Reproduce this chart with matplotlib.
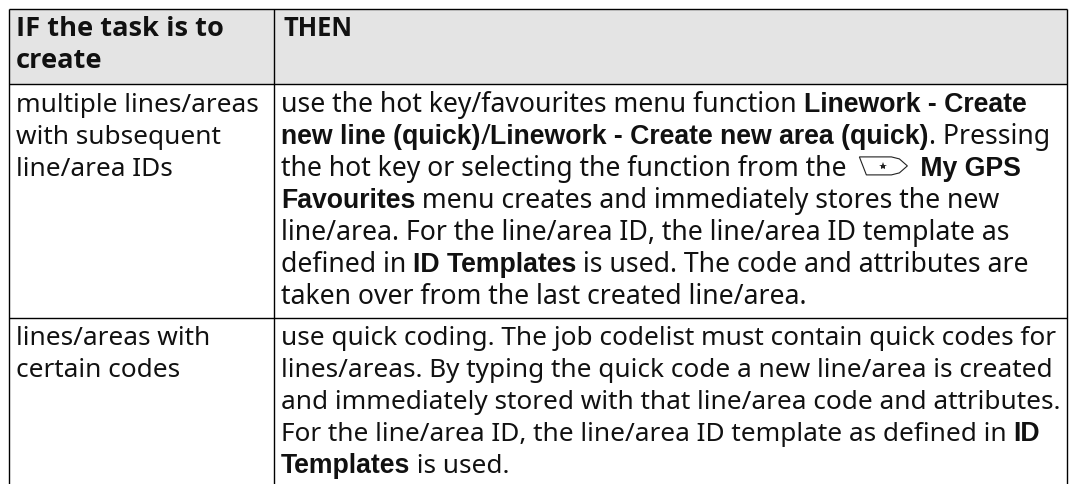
import matplotlib
matplotlib.use("Agg")
import matplotlib.pyplot as plt
from matplotlib.patches import Rectangle, PathPatch
from matplotlib.path import Path

W, H = 1072, 484
DPI = 100
REG = "Noto Sans"
HEAD = "Open Sans"
BOLD = "Liberation Sans"

col_lines = [8.5, 273.5, 1066.5]
row_lines = [8.5, 83.5, 317.5, 500]
header_fill = "#e4e4e4"
ink = "#111111"

# each line is a list of (text, is_bold) runs, ICON marks the hot key glyph
ICON = "<icon>"

header_left = ["IF the task is to", "create"]
header_right = ["THEN"]

row1_left = ["multiple lines/areas", "with subsequent", "line/area IDs"]
row1_right = [
    [("use the hot key/favourites menu function ", False), ("Linework - Create", True)],
    [("new line (quick)", True), ("/", False), ("Linework - Create new area (quick)", True), (". Pressing", False)],
    [("the hot key or selecting the function from the ", False), (ICON, False), (" My GPS", True)],
    [("Favourites", True), (" menu creates and immediately stores the new", False)],
    [("line/area. For the line/area ID, the line/area ID template as", False)],
    [("defined in ", False), ("ID Templates", True), (" is used. The code and attributes are", False)],
    [("taken over from the last created line/area.", False)],
]
row2_left = ["lines/areas with", "certain codes"]
row2_right = [
    [("use quick coding. The job codelist must contain quick codes for", False)],
    [("lines/areas. By typing the quick code a new line/area is created", False)],
    [("and immediately stored with that line/area code and attributes.", False)],
    [("For the line/area ID, the line/area ID template as defined in ", False), ("ID", True)],
    [("Templates", True), (" is used.", False)],
]

fig = plt.figure(figsize=(W / DPI, H / DPI), dpi=DPI)
ax = fig.add_axes([0, 0, 1, 1])
ax.set_xlim(0, W)
ax.set_ylim(H, 0)
ax.axis("off")

ax.add_patch(Rectangle((col_lines[0], row_lines[0]), col_lines[2] - col_lines[0],
                       row_lines[1] - row_lines[0], fc=header_fill, ec="none"))
for x in col_lines:
    ax.plot([x, x], [row_lines[0], H + 5], color="black", lw=1.0, solid_capstyle="butt")
for y in row_lines[:3]:
    ax.plot([col_lines[0], col_lines[2]], [y, y], color="black", lw=1.0, solid_capstyle="butt")

renderer = fig.canvas.get_renderer()
REG_SIZE = 18.85
ROW1_SIZE = 19.15
BOLD_SIZE = 19.2


def draw_icon(x, base):
    # soft key with a star in it, blunt curve on the right
    x += 6
    w, h = 48, 18
    top, bottom = base - h - 1, base - 1
    verts = [(x, top), (x + 32, top), (x + 40, top + 2), (x + w, top + h / 2),
             (x + 40, bottom - 2), (x + 32, bottom), (x + 7, bottom), (x, top)]
    codes = [Path.MOVETO, Path.LINETO, Path.LINETO, Path.LINETO,
             Path.LINETO, Path.LINETO, Path.LINETO, Path.CLOSEPOLY]
    ax.add_patch(PathPatch(Path(verts, codes), fc="white", ec="#222222", lw=0.8))
    ax.plot([x + 24], [top + h / 2], marker="*", ms=6, color="#222222", mew=0)
    return x + w + 6


def draw_runs(x, base, runs, reg_size):
    for txt, bold in runs:
        if txt == ICON:
            x = draw_icon(x, base)
            continue
        t = ax.text(x, base, txt, va="baseline", ha="left", color=ink,
                    family=BOLD if bold else REG,
                    fontweight="bold" if bold else "normal",
                    fontsize=BOLD_SIZE if bold else reg_size)
        # width including trailing spaces, measured with guards
        probe = ax.text(0, 0, "|" + txt + "|", family=t.get_family(), fontweight=t.get_weight(),
                        fontsize=t.get_size())
        guard = ax.text(0, 0, "||", family=t.get_family(), fontweight=t.get_weight(),
                        fontsize=t.get_size())
        x += probe.get_window_extent(renderer).width - guard.get_window_extent(renderer).width
        probe.remove()
        guard.remove()
    return x


def bold_lines(x, bases, lines, size):
    for b, s in zip(bases, lines):
        ax.text(x, b, s, va="baseline", ha="left", color=ink, family=HEAD,
                fontweight="bold", fontsize=size)


def plain_lines(x, bases, lines):
    for b, s in zip(bases, lines):
        ax.text(x, b, s, va="baseline", ha="left", color=ink, family=REG, fontsize=REG_SIZE)


LEFT_X = 15.5
RIGHT_X = 281
PITCH = 31.95

bold_lines(LEFT_X, [36, 68], header_left, 19.6)
bold_lines(283, [36], header_right, 18.4)

plain_lines(LEFT_X, [112 + i * PITCH for i in range(3)], row1_left)
for i, runs in enumerate(row1_right):
    draw_runs(RIGHT_X, 112 + i * PITCH, runs, ROW1_SIZE)

plain_lines(LEFT_X, [345 + i * PITCH for i in range(2)], row2_left)
for i, runs in enumerate(row2_right):
    draw_runs(RIGHT_X, 345 + i * PITCH, runs, REG_SIZE)

fig.savefig("out.png", dpi=DPI, facecolor="white")
